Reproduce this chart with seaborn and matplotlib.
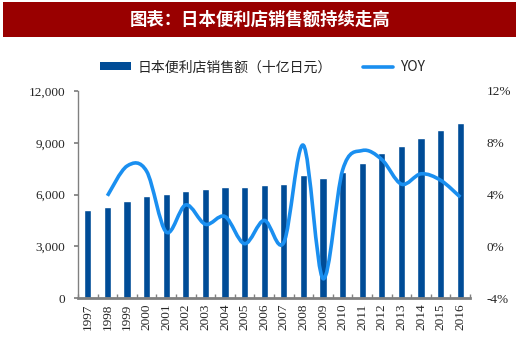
import numpy as np
import pandas as pd
import matplotlib
matplotlib.use("Agg")
import matplotlib.pyplot as plt
import seaborn as sns
from matplotlib.path import Path
from matplotlib.patches import PathPatch, Patch, Rectangle
from matplotlib.lines import Line2D

# Dados
anos = [str(a) for a in range(1997, 2017)]
vendas = [5130, 5250, 5640, 5910, 6010, 6220, 6320, 6430, 6440, 6570,
          6590, 7130, 6940, 7320, 7810, 8420, 8830, 9290, 9760, 10130]
yoy = [3.9, 6.2, 5.8, 1.1, 3.2, 1.7, 2.3, 0.2, 2.0, 0.3,
       7.8, -2.5, 5.9, 7.4, 6.7, 4.8, 5.6, 5.1, 3.8]  # 1998-2016

cor_barra = "#004C97"
cor_linha = "#1A8FF0"

sns.set_theme(style="white")
plt.rcParams["font.family"] = ["Liberation Serif", "Noto Sans CJK SC"]

fig = plt.figure(figsize=(5.2, 3.54), dpi=100)

# Faixa do título
fig.patches.append(Rectangle((0.006, 0.895), 0.987, 0.099, transform=fig.transFigure,
                             facecolor="#990000", edgecolor="none"))
fig.text(0.5, 0.944, "图表：日本便利店销售额持续走高", color="white", fontsize=12.5,
         fontweight="bold", ha="center", va="center",
         family=["Noto Sans CJK SC", "DejaVu Sans"])

ax = fig.add_axes([0.15, 0.158, 0.754, 0.585])
df = pd.DataFrame({"ano": anos, "vendas": vendas})
sns.barplot(data=df, x="ano", y="vendas", color=cor_barra, saturation=1,
            width=0.37, ax=ax)

ax.set_xlim(-0.46, 19.42)
ax.set_ylim(0, 12000)
ax.set_yticks([0, 3000, 6000, 9000, 12000])
ax.set_yticklabels([f"{v:,}" for v in [0, 3000, 6000, 9000, 12000]], fontsize=9.5)
ax.set_xlabel("")
ax.set_ylabel("")
ax.tick_params(axis="x", labelrotation=90, labelsize=9.5, length=0, pad=4)
ax.tick_params(axis="y", left=True, length=3, color="#808080", pad=6)
ax.set_xticks(np.arange(-0.5, 20, 1), minor=True)
ax.tick_params(axis="x", which="minor", bottom=True, direction="in", length=3,
               color="#808080")
for lado in ["top", "right"]:
    ax.spines[lado].set_visible(False)
ax.spines["left"].set_color("#808080")
ax.spines["left"].set_linewidth(1)
ax.spines["bottom"].set_color("#808080")
ax.spines["bottom"].set_linewidth(2)

# Linha YOY suavizada (curvas de Bezier a partir dos pontos)
ax2 = ax.twinx()
xs = np.arange(1, 20, dtype=float)
ys = np.array(yoy, dtype=float)
pts = np.column_stack([xs, ys])
verts = [pts[0]]
codes = [Path.MOVETO]
n = len(pts)
for i in range(n - 1):
    p0 = pts[max(i - 1, 0)]
    p1 = pts[i]
    p2 = pts[i + 1]
    p3 = pts[min(i + 2, n - 1)]
    c1 = p1 + (p2 - p0) / 6
    c2 = p2 - (p3 - p1) / 6
    verts += [c1, c2, p2]
    codes += [Path.CURVE4] * 3
ax2.add_patch(PathPatch(Path(verts, codes), facecolor="none", edgecolor=cor_linha,
                        linewidth=2.6, capstyle="butt"))
ax2.set_ylim(-4, 12)
ax2.set_yticks([-4, 0, 4, 8, 12])
ax2.set_yticklabels([f"{v}%" for v in [-4, 0, 4, 8, 12]], fontsize=9.5)
ax2.tick_params(axis="y", right=False, length=0, pad=12)
ax2.grid(False)
for lado in ax2.spines:
    ax2.spines[lado].set_visible(False)

# Legenda
handles = [Patch(facecolor=cor_barra, edgecolor="none"),
           Line2D([0], [0], color=cor_linha, linewidth=2.6)]
fig.legend(handles, ["日本便利店销售额（十亿日元）", "YOY"], loc="center",
           bbox_to_anchor=(0.505, 0.81), ncol=2, frameon=False,
           handlelength=2.2, handleheight=0.5, columnspacing=2.2, handletextpad=0.5,
           prop={"family": ["Noto Sans CJK SC", "DejaVu Sans"], "size": 10})

fig.savefig("out.png", dpi=100)
